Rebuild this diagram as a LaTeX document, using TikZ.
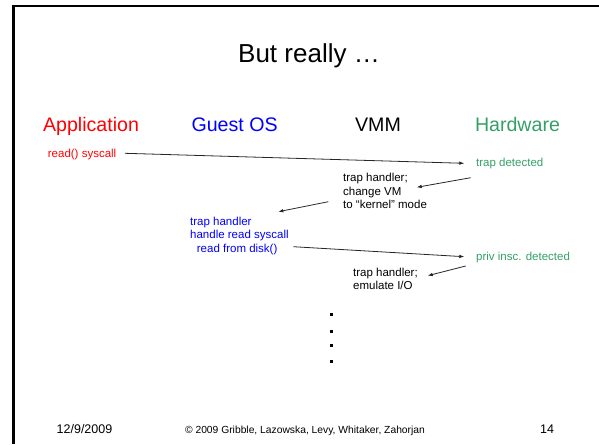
\documentclass[tikz,border=0pt]{standalone}
\usepackage{fontspec}
\setmainfont{Liberation Sans}
\usetikzlibrary{arrows.meta}
\definecolor{appred}{RGB}{255,0,0}
\definecolor{osblue}{RGB}{0,0,255}
\definecolor{hwgreen}{RGB}{51,160,102}

\begin{document}
\begin{tikzpicture}[x=1pt,y=-1pt,
        hdr/.style={anchor=base, inner sep=0, font=\fontsize{19.6}{23}\selectfont},
        msg/.style={anchor=base west, inner sep=0, align=left, font=\fontsize{11.5}{13.5}\selectfont},
        foot/.style={anchor=base, inner sep=0, font=\fontsize{12.5}{15}\selectfont},
        arr/.style={-{Latex[length=5pt,width=3.6pt]}, line width=0.8pt, black!85}]
        \useasboundingbox (0,0) rectangle (599,444);
        \draw[line width=2.5pt] (13.5,444) -- (13.5,6.2) -- (599,6.2);

        \node[anchor=base, inner sep=0, font=\fontsize{26}{30}\selectfont] (title) at (309,62.3) {But really …};

        % column heads
        \node[hdr, appred] (app) at (91,131) {Application};
        \node[hdr, osblue] (guest) at (234.6,131) {Guest OS};
        \node[hdr] (vmm) at (378,131) {VMM};
        \node[hdr, hwgreen] (hw) at (517.5,131) {Hardware};

        % steps (base = last line)
        \node[msg, appred] (syscall) at (47.7,157) {read() syscall};
        \node[msg, hwgreen] (trapdet) at (476,166.7) {trap detected};
        \node[msg] (vmtrap) at (343,208.6) {trap handler;\\change VM\\to “kernel” mode};
        \node[msg, osblue] (ostrap) at (190,252.4) {trap handler\\handle read syscall\\\hspace*{6.7pt}read from disk()};
        \node[msg, hwgreen] (privdet) at (476,260.7) {priv insc. detected};
        \node[msg] (emulate) at (353,289.8) {trap handler;\\emulate I/O};

        \draw[arr] ([shift={(77.3,-3.7)}]syscall.base west) -- ([shift={(-11.7,-3.4)}]trapdet.base west);
        \draw[arr] ([shift={(-5.3,11)}]trapdet.base west) -- ([shift={(73.7,-21.3)}]vmtrap.base west);
        \draw[arr] ([shift={(-14.7,-6.9)}]vmtrap.base west) -- ([shift={(88.3,-40.7)}]ostrap.base west);
        \draw[arr] ([shift={(103.3,-5.7)}]ostrap.base west) -- ([shift={(-11.7,-4)}]privdet.base west);
        \draw[arr] ([shift={(-10.3,5.3)}]privdet.base west) -- ([shift={(74.7,-14.1)}]emulate.base west);

        % more to come
        \foreach \y in {314.3,331.7,345,361}
            \fill (329.5,\y-1.5) rectangle +(3,3);

        \node[foot] (date) at (84.5,433.3) {12/9/2009};
        \node[anchor=base, inner sep=0, font=\fontsize{10.3}{12}\selectfont] (copy) at (305,433.3) {© 2009 Gribble, Lazowska, Levy, Whitaker, Zahorjan};
        \node[foot] (page) at (547,433.3) {14};
\end{tikzpicture}
\end{document}
